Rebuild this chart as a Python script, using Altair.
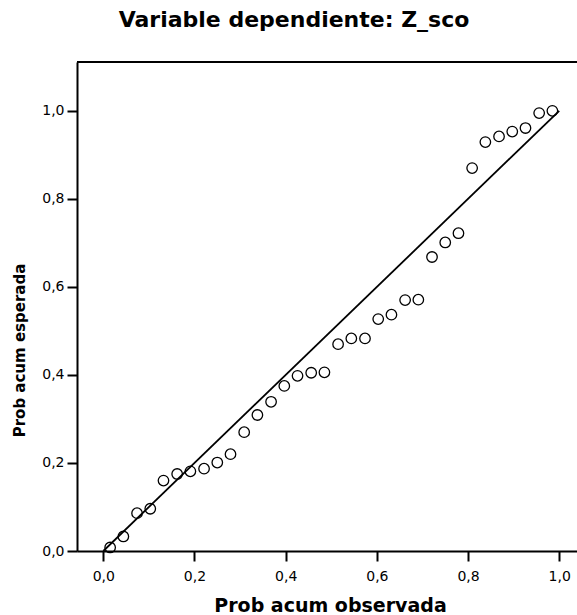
import altair as alt
import pandas as pd

# Observed vs. expected cumulative probabilities of the standardized residual
prob_observada = [0.015, 0.044, 0.074, 0.103, 0.132, 0.162, 0.191, 0.221,
                  0.250, 0.279, 0.309, 0.338, 0.368, 0.397, 0.426, 0.456,
                  0.485, 0.515, 0.544, 0.574, 0.603, 0.632, 0.662, 0.691,
                  0.721, 0.750, 0.779, 0.809, 0.838, 0.868, 0.897, 0.926,
                  0.956, 0.985]
prob_esperada = [0.008, 0.033, 0.086, 0.096, 0.160, 0.175, 0.181, 0.187,
                 0.201, 0.220, 0.270, 0.309, 0.339, 0.375, 0.398, 0.405,
                 0.406, 0.470, 0.483, 0.483, 0.527, 0.537, 0.570, 0.571,
                 0.668, 0.701, 0.722, 0.870, 0.929, 0.942, 0.953, 0.961,
                 0.995, 1.000]

# Reference diagonal
diag_x = [0.0, 1.0]
diag_y = [0.0, 1.0]

tick_vals = [0.0, 0.2, 0.4, 0.6, 0.8, 1.0]

FONT = "DejaVu Sans"
W, H = 500, 489

points_df = pd.DataFrame({"obs": prob_observada, "esp": prob_esperada})
diag_df = pd.DataFrame({"obs": diag_x, "esp": diag_y})

x_scale = alt.Scale(domain=[-0.0577, 1.039], nice=False, zero=False)
y_scale = alt.Scale(domain=[0.0, 1.111], nice=False, zero=False)

x_axis = alt.Axis(
    title="Prob acum observada", values=tick_vals, format=".1f", grid=False,
    domainColor="black", domainWidth=2, tickColor="black", tickWidth=2,
    tickSize=10, labelFont=FONT, labelFontSize=14, labelColor="black",
    labelPadding=8, titleFont=FONT, titleFontSize=19, titleFontWeight="bold",
    titleColor="black", titleX=253, titleY=60, titleAnchor="start",
    titleAlign="center", titleBaseline="alphabetic",
)
y_axis = alt.Axis(
    title="Prob acum esperada", values=tick_vals, format=".1f", grid=False,
    domainColor="black", domainWidth=2, tickColor="black", tickWidth=2,
    tickSize=10, labelFont=FONT, labelFontSize=14, labelColor="black",
    labelPadding=3, titleFont=FONT, titleFontSize=15, titleFontWeight="bold",
    titleColor="black", titleAngle=270, titleX=-58, titleY=288,
    titleAlign="center", titleBaseline="middle", titleAnchor="start",
)

base = alt.Chart(points_df)

pts = base.mark_point(
    shape="circle", filled=False, stroke="black", strokeWidth=1.3, size=110,
    opacity=1,
).encode(
    x=alt.X("obs:Q", scale=x_scale, axis=x_axis),
    y=alt.Y("esp:Q", scale=y_scale, axis=y_axis),
)

line = alt.Chart(diag_df).mark_line(color="black", strokeWidth=1.8).encode(
    x=alt.X("obs:Q", scale=x_scale),
    y=alt.Y("esp:Q", scale=y_scale),
)

# top frame edge of the plot area
top_edge = alt.Chart(diag_df).mark_rule(color="black", strokeWidth=2).encode(
    x=alt.value(0), x2=alt.value(W), y=alt.value(0)
)

chart = alt.layer(line, pts, top_edge).properties(
    width=W,
    height=H,
    title=alt.TitleParams(
        "Variable dependiente: Z_sco", font=FONT, fontSize=22,
        fontWeight="bold", color="black", anchor="middle", dx=-33,
        offset=12, baseline="alphabetic",
    ),
    autosize=alt.AutoSizeParams(type="none"),
    padding={"left": 77, "top": 62, "right": 0, "bottom": 64},
).configure_view(
    fill="#f0f0f0", stroke="transparent"
).configure(
    background="white"
).configure_axis(labelExpr="replace(datum.label, '.', ',')")

chart.save("out.html", embed_options={"renderer": "svg", "actions": False})
